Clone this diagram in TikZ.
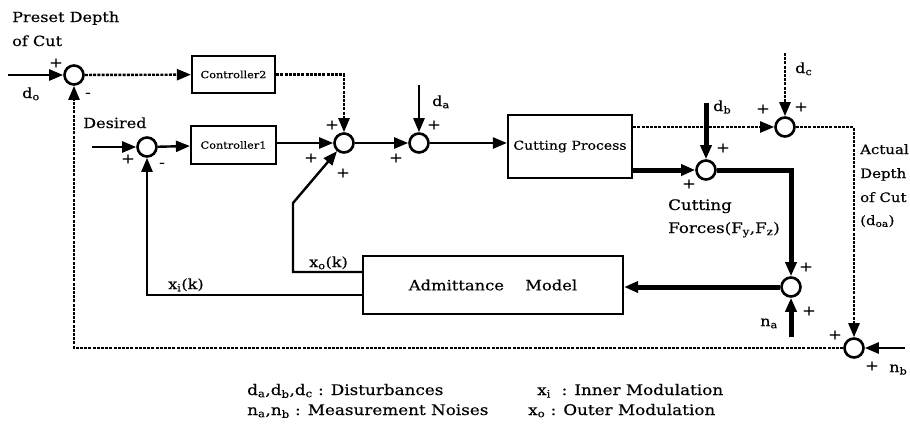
\documentclass[tikz,border=0pt]{standalone}
\usepackage{fontspec}
\setmainfont{DejaVu Serif}[FakeStretch=1.15,FakeBold=0.35]
\usetikzlibrary{arrows.meta}
\begin{document}
\begin{tikzpicture}[x=1pt,y=-1pt,
  >={Triangle[length=14pt,width=11pt]},
  every node/.style={font=\fontsize{14}{16}\selectfont},
  ln/.style={line width=2.4pt},
  thk/.style={line width=5pt},
  dsh/.style={line width=2.4pt,dash pattern=on 3pt off 1.2pt},
  sum/.style={circle,draw,line width=2.6pt,minimum size=19pt,inner sep=0pt,fill=white},
  blk/.style={draw,line width=2.2pt,inner sep=0pt},
  sg/.style={inner sep=0pt,font=\fontsize{14}{14}\selectfont},
  lbl/.style={inner sep=0pt,anchor=base west},
  leg/.style={inner sep=0pt,anchor=base west,font=\fontsize{14.6}{17}\selectfont}]
\useasboundingbox (0,0) rectangle (910,434);

% sums
\node[sum] (s0) at (74,75) {};
\node[sum] (s1) at (147,147) {};
\node[sum] (s2) at (344,143) {};
\node[sum] (s3) at (419,143) {};
\node[sum] (s4) at (706,170) {};
\node[sum] (s5) at (785,127) {};
\node[sum] (s7) at (791,287) {};
\node[sum] (s6) at (854,348) {};

% blocks
\node[blk,minimum width=83pt,minimum height=37pt,font=\fontsize{9.8}{12}\selectfont] (c2) at (233.5,74.5) {Controller2};
\node[blk,minimum width=85pt,minimum height=38pt,font=\fontsize{9.8}{12}\selectfont] (c1) at (233.5,145) {Controller1};
\node[blk,minimum width=124pt,minimum height=63pt,font=\fontsize{12.2}{14}\selectfont] (cp) at (570,146.5) {Cutting Process};
\node[blk,minimum width=260pt,minimum height=58pt,font=\fontsize{14.2}{16}\selectfont] (am) at (493,285) {Admittance\hspace{1.5em}Model};

% free ends
\coordinate (in0) at (8,75);
\coordinate (in1) at (92,147);
\coordinate (da) at (419,85);
\coordinate (db) at (706,103);
\coordinate (dc) at (785,53);
\coordinate (na) at (791,337);
\coordinate (nb) at (905,348);
\coordinate (xo1) at (293,272);
\coordinate (xo2) at (293,203);
\coordinate (xi1) at (147,295);

% connectors
\draw[ln,->] (in0) -- (s0);
\draw[dsh,->] (s0) -- (c2);
\draw[dsh,->] (c2) -| (s2);
\draw[ln,->] (in1) -- (s1);
\draw[ln,->] (s1) -- (c1);
\draw[ln,->] (c1.east |- s2) -- (s2);
\draw[ln,->] (s2) -- (s3);
\draw[ln,->] (da) -- (s3);
\draw[ln,->] (s3) -- (s3 -| cp.west);
\draw[dsh,->] (cp.east |- s5) -- (s5);
\draw[dsh,->] (dc) -- (s5);
\draw[dsh,->] (s5) -| (s6);
\draw[thk,->] (cp.east |- s4) -- (s4);
\draw[thk,->] (db) -- (s4);
\draw[thk,->] (s4) -| (s7);
\draw[thk,->] (na) -- (s7);
\draw[thk,->] (s7) -- (s7 -| am.east);
\draw[ln,->] (nb) -- (s6);
\draw[dsh,->] (s6) -| (s0);
\draw[ln,->] (xo1 -| am.west) -- (xo1) -- (xo2) -- (s2);
\draw[ln,->] (xi1 -| am.west) -- (xi1) -- (s1);

% signs
\node[sg] (p0a) at (56,63) {+};
\node[sg] (m0) at (88,95) {-};
\node[sg] (p1a) at (128,159) {+};
\node[sg] (m1) at (162,165) {-};
\node[sg] (p2a) at (332,125) {+};
\node[sg] (p2b) at (311,158) {+};
\node[sg] (p2c) at (343,173) {+};
\node[sg] (p3a) at (434,125) {+};
\node[sg] (p3b) at (396,158) {+};
\node[sg] (p4a) at (723,148) {+};
\node[sg] (p4b) at (689,184) {+};
\node[sg] (p5a) at (763,109) {+};
\node[sg] (p5b) at (801,107) {+};
\node[sg] (p7a) at (806,267) {+};
\node[sg] (p7b) at (809,311) {+};
\node[sg] (p6a) at (835,335) {+};
\node[sg] (p6b) at (872,366) {+};

% labels
\node[lbl] (t1) at (12,22) {Preset Depth};
\node[lbl] (t2) at (12,46) {of Cut};
\node[lbl] (t3) at (22,98) {d\textsubscript{o}};
\node[lbl] (t4) at (83,128) {Desired};
\node[lbl] (t5) at (432,106) {d\textsubscript{a}};
\node[lbl] (t6) at (713,111) {d\textsubscript{b}};
\node[lbl] (t7) at (795,73) {d\textsubscript{c}};
\node[lbl,font=\fontsize{14.5}{16}\selectfont] (t8) at (668,210) {Cutting};
\node[lbl,font=\fontsize{14.5}{16}\selectfont] (t9) at (668,233) {Forces(F\textsubscript{y},F\textsubscript{z})};
\node[lbl,font=\fontsize{13}{15}\selectfont] (t10) at (860,154) {Actual};
\node[lbl,font=\fontsize{13}{15}\selectfont] (t11) at (860,178) {Depth};
\node[lbl,font=\fontsize{13}{15}\selectfont] (t12) at (860,202) {of Cut};
\node[lbl,font=\fontsize{13}{15}\selectfont] (t13) at (860,225) {(d\textsubscript{oa})};
\node[lbl] (t14) at (760,326) {n\textsubscript{a}};
\node[lbl] (t15) at (889,372) {n\textsubscript{b}};
\node[lbl] (t16) at (168,289) {x\textsubscript{i}(k)};
\node[lbl] (t17) at (309,267) {x\textsubscript{o}(k)};

% legend
\node[leg] (l1) at (247,395) {d\textsubscript{a},d\textsubscript{b},d\textsubscript{c} : Disturbances};
\node[leg] (l2) at (247,415) {n\textsubscript{a},n\textsubscript{b} : Measurement Noises};
\node[leg] (l3) at (537,395) {x\textsubscript{i}\ \ : Inner Modulation};
\node[leg] (l4) at (528,415) {x\textsubscript{o} : Outer Modulation};
\end{tikzpicture}
\end{document}
